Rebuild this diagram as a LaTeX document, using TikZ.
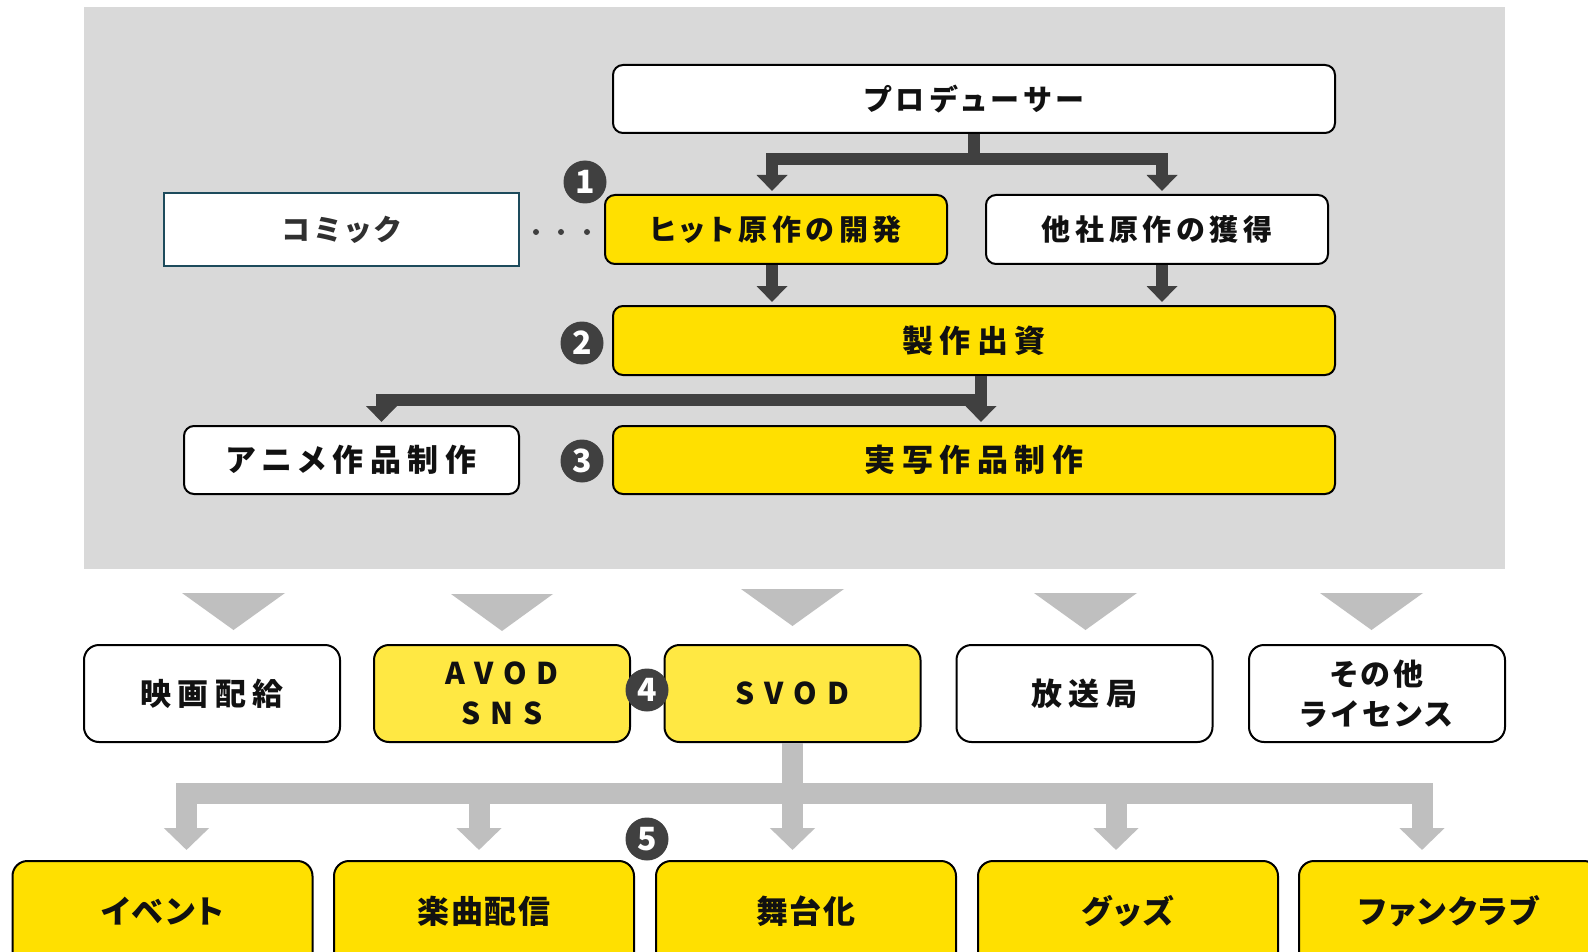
\documentclass[tikz,border=0pt]{standalone}
\usepackage{fontspec}
\setmainfont{Noto Sans CJK JP}
\usetikzlibrary{arrows.meta,calc,backgrounds}
\definecolor{bgc}{HTML}{D9D9D9}
\definecolor{dk}{HTML}{404040}
\definecolor{gl}{HTML}{BFBFBF}
\definecolor{ymain}{HTML}{FFE000}
\definecolor{ylight}{HTML}{FFE843}
\definecolor{teal}{HTML}{1D4B5C}
\definecolor{txt}{HTML}{111111}
\definecolor{ctxt}{HTML}{303030}
\begin{document}
\begin{tikzpicture}[x=1pt,y=-1pt,
  box/.style={draw=black, line width=2pt, rounded corners=10pt, inner sep=0pt, align=center, text=txt},
  ytop/.style={box, fill=ymain},
  wtop/.style={box, fill=white},
  ftop/.style={font=\fontsize{29}{32}\selectfont\bfseries\addfontfeatures{RawFeature=+palt,LetterSpace=16}},
  fbig/.style={font=\fontsize{31}{34}\selectfont\bfseries\addfontfeatures{RawFeature=+palt,LetterSpace=21}},
  mid/.style={box, rounded corners=15pt, minimum width=256pt, minimum height=97pt},
  fmid/.style={font=\fontsize{31}{40}\selectfont\bfseries\addfontfeatures{RawFeature=+palt,LetterSpace=20}},
  fmid2/.style={font=\fontsize{30}{40}\selectfont\bfseries\addfontfeatures{RawFeature=+palt,LetterSpace=12}},
  flat/.style={font=\fontsize{30}{40}\selectfont\bfseries\addfontfeatures{LetterSpace=33}},
  bot/.style={box, rounded corners=15pt, fill=ymain, minimum width=300pt, inner ysep=0pt, text height=62pt, text depth=80pt, anchor=north,
    font=\fontsize{32}{34}\selectfont\bfseries\addfontfeatures{RawFeature=+palt,LetterSpace=6}},
  num/.style={circle, fill=dk, text=white, inner sep=0pt, minimum size=43pt, font=\fontsize{32}{32}\selectfont\bfseries},
  dot/.style={circle, fill=dk, inner sep=0pt, minimum size=6pt},
  darr/.style={draw=dk, line width=12pt, line join=miter, -{Triangle[width=30pt,length=16pt]}, shorten >=3pt},
  garr/.style={draw=gl, line width=21pt, line join=miter, -{Triangle[width=44pt,length=22pt]}, shorten >=10pt},
  band/.style={draw=gl, line width=22pt},
  tri/.style={fill=gl}
]
\useasboundingbox (0,0) rectangle (1588,952);
\clip (0,0) rectangle (1588,952);
\fill[white] (0,0) rectangle (1588,952);
\fill[bgc] (84,7) rectangle (1505,569);

% top panel
\node[wtop, ftop, minimum width=722pt, minimum height=68pt] (prod) at (974,99) {プロデューサー};
\node[ytop, ftop, minimum width=342pt, minimum height=69pt] (hit) at (776,229.5) {ヒット原作の開発};
\node[wtop, ftop, minimum width=342pt, minimum height=69pt] (other) at (1157,229.5) {他社原作の獲得};
\node[draw=teal, line width=2pt, fill=white, inner sep=0pt, text=ctxt, ftop, minimum width=355pt, minimum height=73pt] (comic) at (341.5,229.5) {コミック};
\node[ytop, fbig, minimum width=722pt, minimum height=69pt] (invest) at (974,340.5) {製作出資};
\node[wtop, fbig, minimum width=335pt, minimum height=68pt] (anime) at (351.5,460) {アニメ作品制作};
\node[ytop, fbig, minimum width=722pt, minimum height=68pt] (live) at (974,460) {実写作品制作};

\node[num] (c1) at (585,182) {1};
\node[num] (c2) at (582,343) {2};
\node[num] (c3) at (582,461) {3};

\node[dot] (d1) at (536,232) {};
\node[dot] (d2) at (561,232) {};
\node[dot] (d3) at (587,232) {};

\draw[darr] (prod.south) -- ++(0,25) -| ($(hit.north)+(-4,0)$);
\draw[darr] (prod.south) -- ++(0,25) -| ($(other.north)+(5,0)$);
\draw[darr] ($(hit.south)+(-4,0)$) -- ($(hit.south |- invest.north)+(-4,0)$);
\draw[darr] ($(other.south)+(5,0)$) -- ($(other.south |- invest.north)+(5,0)$);
\draw[darr] ($(invest.south)+(7,0)$) -- ++(0,24) -| ($(anime.north)+(30,0)$);
\draw[darr] ($(invest.south)+(7,0)$) -- ($(invest.south |- live.north)+(7,0)$);

% gray triangles
\fill[tri] (182,593) -- (285,593) -- (233.5,630) -- cycle;
\fill[tri] (451,594) -- (553,594) -- (502,631) -- cycle;
\fill[tri] (741,589) -- (844,589) -- (792.5,626) -- cycle;
\fill[tri] (1034,593) -- (1137,593) -- (1085.5,630) -- cycle;
\fill[tri] (1320,593) -- (1423,593) -- (1371.5,630) -- cycle;

% middle row
\node[mid, fill=white, fmid] (m1) at (212,693.5) {映画配給};
\node[mid, fill=ylight, flat] (m2) at (502,693.5) {AVOD\\SNS};
\node[mid, fill=ylight, flat] (m3) at (792.5,693.5) {SVOD};
\node[mid, fill=white, fmid] (m4) at (1084.5,693.5) {放送局};
\node[mid, fill=white, fmid2] (m5) at (1377,693.5) {その他\\ライセンス};
\node[num] (c4) at (647,690) {4};

% bottom row
\node[bot] (b1) at (162.5,860) {イベント};
\node[bot] (b2) at (484,860) {楽曲配信};
\node[bot] (b3) at (806,860) {舞台化};
\node[bot] (b4) at (1128,860) {グッズ};
\node[bot] (b5) at (1449,860) {ファンクラブ};
\node[num] (c5) at (647,839) {5};

\begin{scope}[on background layer]
\draw[band] ($(b1.north)+(0,50)$) -- ($(b5.north)+(0,50)$);
\end{scope}

\draw[garr] (m3.south) -- ++(0,50) -| ($(b1.north)+(24,0)$);
\draw[garr] (m3.south) -- ++(0,50) -| ($(b2.north)+(-5,0)$);
\draw[garr] (m3.south) -- (m3.south |- b3.north);
\draw[garr] (m3.south) -- ++(0,50) -| ($(b4.north)+(-12,0)$);
\draw[garr] (m3.south) -- ++(0,50) -| ($(b5.north)+(-27,0)$);
\end{tikzpicture}
\end{document}
